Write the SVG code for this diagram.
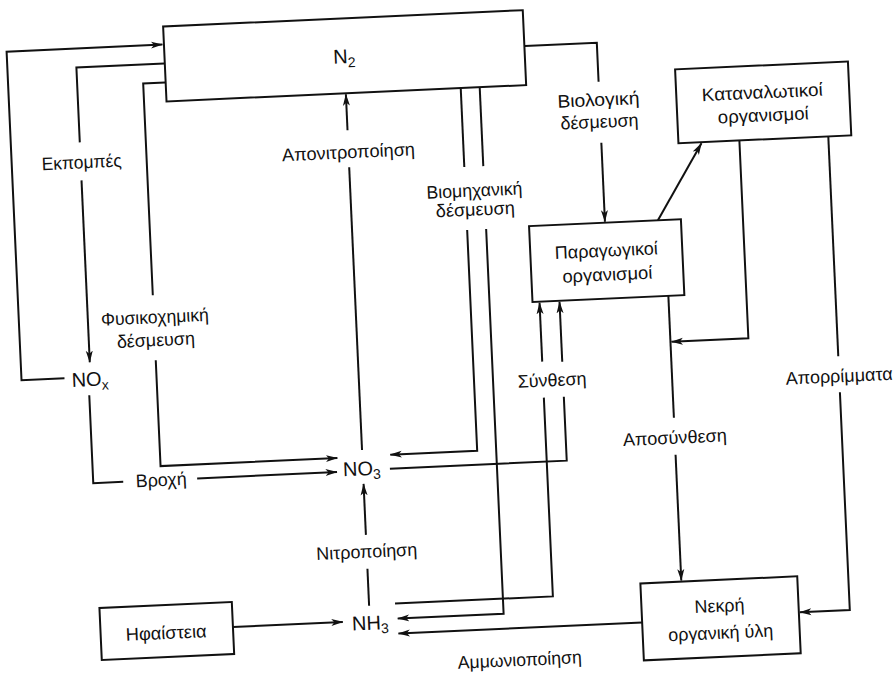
<svg xmlns="http://www.w3.org/2000/svg" width="893" height="675" viewBox="0 0 893 675">
<style>
.box{fill:#fff;stroke:#111;stroke-width:2}
.ln{fill:none;stroke:#111;stroke-width:2}
.t{font-family:"Liberation Sans",Arial,sans-serif;font-size:18px;fill:#111;text-anchor:middle}
.ch{font-family:"Liberation Sans",Arial,sans-serif;font-size:20px;fill:#111}
.sub{font-size:14px}
</style>
<defs>
<marker id="ah" markerWidth="12" markerHeight="8" refX="11.5" refY="4" orient="auto" markerUnits="userSpaceOnUse">
<path d="M0,0.5 L12,4 L0,7.5 L3,4 z" fill="#111"/>
</marker>
</defs>
<rect width="893" height="675" fill="#fff"/>
<g transform="rotate(-2.6 446 337)">
<g id="connectors">
<path class="ln" d="M63,361 H20 V32 H176" marker-end="url(#ah)"/>
<path class="ln" d="M177,51 H89 V126"/>
<path class="ln" d="M89,164 V346" marker-end="url(#ah)"/>
<path class="ln" d="M177,70 H155 V282"/>
<path class="ln" d="M155,347 V453 H332" marker-end="url(#ah)"/>
<path class="ln" d="M87,379 V467 H117"/>
<path class="ln" d="M191,467 H331" marker-end="url(#ah)"/>
<path class="ln" d="M357,446 V163"/>
<path class="ln" d="M357,126 V90" marker-end="url(#ah)"/>
<path class="ln" d="M472,89 V168"/>
<path class="ln" d="M472,231 V452 H385" marker-end="url(#ah)"/>
<path class="ln" d="M491,89 V168"/>
<path class="ln" d="M491,231 V616 H385" marker-end="url(#ah)"/>
<path class="ln" d="M384,466 H561 V402"/>
<path class="ln" d="M561,367 V307" marker-end="url(#ah)"/>
<path class="ln" d="M383,601 H541 V402"/>
<path class="ln" d="M541,366 V307" marker-end="url(#ah)"/>
<path class="ln" d="M538,50 H610 V89"/>
<path class="ln" d="M610,150 V229" marker-end="url(#ah)"/>
<path class="ln" d="M663,230 L710,155" marker-end="url(#ah)"/>
<path class="ln" d="M748,154 V352 H671" marker-end="url(#ah)"/>
<path class="ln" d="M670,306 V428"/>
<path class="ln" d="M670,465 V591" marker-end="url(#ah)"/>
<path class="ln" d="M837,154 V374"/>
<path class="ln" d="M837,410 V628 H787" marker-end="url(#ah)"/>
<path class="ln" d="M629,631 H385" marker-end="url(#ah)"/>
<path class="ln" d="M220,617 H330" marker-end="url(#ah)"/>
<path class="ln" d="M357,602 V565"/>
<path class="ln" d="M357,531 V480" marker-end="url(#ah)"/>
</g>
<g id="labels">
<text class="t" x="90" y="152" textLength="80" lengthAdjust="spacingAndGlyphs">Εκπομπές</text>
<text class="t" x="156" y="310" textLength="108" lengthAdjust="spacingAndGlyphs">Φυσικοχημική</text>
<text class="t" x="156" y="333" textLength="78" lengthAdjust="spacingAndGlyphs">δέσμευση</text>
<text class="t" x="155" y="473" textLength="51" lengthAdjust="spacingAndGlyphs">Βροχή</text>
<text class="t" x="357" y="154" textLength="133" lengthAdjust="spacingAndGlyphs">Απονιτροποίηση</text>
<text class="t" x="481" y="198" textLength="96" lengthAdjust="spacingAndGlyphs">Βιομηχανική</text>
<text class="t" x="481" y="217" textLength="79" lengthAdjust="spacingAndGlyphs">δέσμευση</text>
<text class="t" x="609" y="113" textLength="82" lengthAdjust="spacingAndGlyphs">Βιολογική</text>
<text class="t" x="609" y="135" textLength="78" lengthAdjust="spacingAndGlyphs">δέσμευση</text>
<text class="t" x="550" y="391" textLength="69" lengthAdjust="spacingAndGlyphs">Σύνθεση</text>
<text class="t" x="670" y="454" textLength="104" lengthAdjust="spacingAndGlyphs">Αποσύνθεση</text>
<text class="t" x="837" y="400" textLength="107" lengthAdjust="spacingAndGlyphs">Απορρίμματα</text>
<text class="t" x="357" y="554" textLength="101" lengthAdjust="spacingAndGlyphs">Νιτροποίηση</text>
<text class="t" x="505" y="669" textLength="124" lengthAdjust="spacingAndGlyphs">Αμμωνιοποίηση</text>
</g>
<g id="n2">
<rect class="box" x="177.5" y="14" width="360" height="75"/>
<text class="ch" x="346" y="59">N<tspan class="sub" dy="4">2</tspan></text>
</g>
<g id="nox">
<text class="ch" x="70" y="370">NO<tspan class="sub" dy="4">x</tspan></text>
</g>
<g id="no3">
<text class="ch" x="337" y="471.5">NO<tspan class="sub" dy="4">3</tspan></text>
</g>
<g id="nh3">
<text class="ch" x="339" y="626">NH<tspan class="sub" dy="4">3</tspan></text>
</g>
<g id="paragogikoi">
<rect class="box" x="534" y="230" width="152" height="76"/>
<text class="t" x="610" y="264" textLength="103" lengthAdjust="spacingAndGlyphs">Παραγωγικοί</text>
<text class="t" x="610" y="288" textLength="90" lengthAdjust="spacingAndGlyphs">οργανισμοί</text>
</g>
<g id="katanalotikoi">
<rect class="box" x="687" y="80" width="173" height="74"/>
<text class="t" x="773" y="113" textLength="121" lengthAdjust="spacingAndGlyphs">Καταναλωτικοί</text>
<text class="t" x="773" y="136" textLength="91" lengthAdjust="spacingAndGlyphs">οργανισμοί</text>
</g>
<g id="nekri">
<rect class="box" x="629" y="592" width="157" height="77"/>
<text class="t" x="707" y="624" textLength="50" lengthAdjust="spacingAndGlyphs">Νεκρή</text>
<text class="t" x="707" y="651" textLength="105" lengthAdjust="spacingAndGlyphs">οργανική ύλη</text>
</g>
<g id="ifaisteia">
<rect class="box" x="87.5" y="592" width="132.5" height="52"/>
<text class="t" x="153" y="626" textLength="81" lengthAdjust="spacingAndGlyphs">Ηφαίστεια</text>
</g>
</g>
</svg>
